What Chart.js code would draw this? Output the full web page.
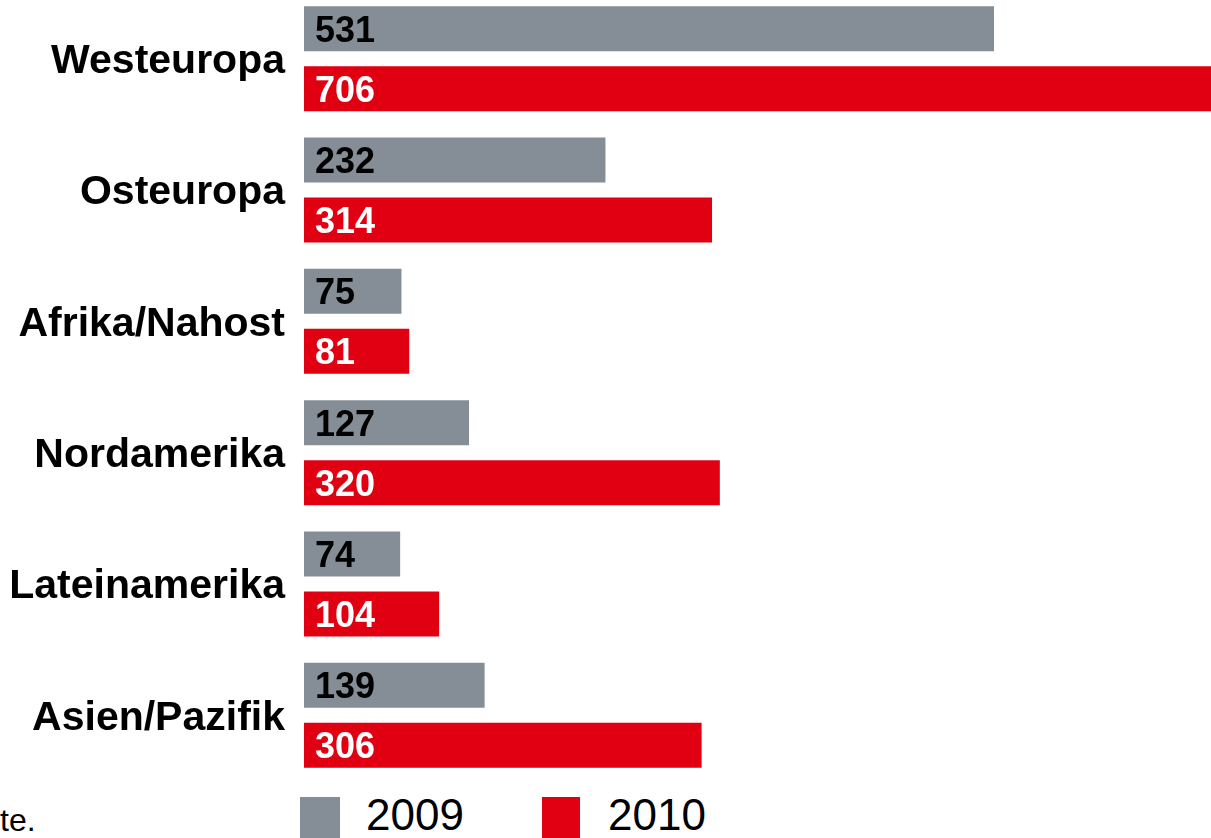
<!DOCTYPE html>
<html>
<head>
<meta charset="utf-8">
<script src="https://cdn.jsdelivr.net/npm/chart.js@4/dist/chart.umd.min.js"></script>
<style>
  html, body {
    margin: 0;
    padding: 0;
    background: #fff;
    overflow: hidden;
  }
  body {
    width: 1211px;
    height: 838px;
    position: relative;
    font-family: "Liberation Sans", Arial, sans-serif;
  }
  #chartBox {
    position: absolute;
    left: 0;
    top: -7px;
    width: 1211px;
    height: 788px;
  }
  .legend-box {
    position: absolute;
    top: 797px;
    width: 40px;
    height: 41px;
  }
  .legend-text {
    position: absolute;
    top: 790px;
    font-size: 44px;
    line-height: 50px;
    color: #000;
  }
  #note {
    position: absolute;
    left: 0;
    top: 800px;
    font-size: 32px;
    line-height: 40px;
    color: #000;
  }
</style>
</head>
<body>
<div id="chartBox"><canvas id="regionChart"></canvas></div>

<div id="note">te.</div>
<div class="legend-box" id="box2009" style="left:300px;"></div>
<div class="legend-text" id="txt2009" style="left:366px;"></div>
<div class="legend-box" id="box2010" style="left:542px;width:38px;"></div>
<div class="legend-text" id="txt2010" style="left:608px;"></div>

<script>
"use strict";

/**************************************************************
 * Data
 **************************************************************/
const regions = [
  "Westeuropa",
  "Osteuropa",
  "Afrika/Nahost",
  "Nordamerika",
  "Lateinamerika",
  "Asien/Pazifik",
];

const years = ["2009", "2010"];

const values2009 = [531, 232, 75, 127, 74, 139];

const values2010 = [706, 314, 81, 320, 104, 306];

const GREY = "#858e96";
const RED = "#e10012";
const FONT = "'Liberation Sans', Arial, sans-serif";

/**************************************************************
 * Legend (html)
 **************************************************************/
document.getElementById("box2009").style.background = GREY;
document.getElementById("box2010").style.background = RED;
document.getElementById("txt2009").textContent = years[0];
document.getElementById("txt2010").textContent = years[1];

/**************************************************************
 * Value labels inside the bars
 **************************************************************/
const barValueLabels = {
  id: "barValueLabels",
  afterDatasetsDraw(chart) {
    const ctx = chart.ctx;
    ctx.save();
    ctx.font = "bold 36px " + FONT;
    ctx.textAlign = "left";
    ctx.textBaseline = "alphabetic";

    chart.data.datasets.forEach((ds, i) => {
      const meta = chart.getDatasetMeta(i);
      ctx.fillStyle = i === 0 ? "#000" : "#fff";
      meta.data.forEach((bar, j) => {
        ctx.fillText(String(ds.data[j]), bar.base + 11, bar.y + 13);
      });
    });

    ctx.restore();
  },
};

/**************************************************************
 * Chart
 **************************************************************/
const ctx = document.getElementById("regionChart").getContext("2d");

new Chart(ctx, {
  type: "bar",
  data: {
    labels: regions,
    datasets: [
      {
        label: years[0],
        data: values2009,
        backgroundColor: GREY,
        borderWidth: 0,
      },
      {
        label: years[1],
        data: values2010,
        backgroundColor: RED,
        borderWidth: 0,
      },
    ],
  },
  options: {
    indexAxis: "y",
    responsive: true,
    maintainAspectRatio: false,
    animation: false,
    categoryPercentage: 0.913,
    barPercentage: 0.75,
    layout: {
      padding: 0,
    },
    scales: {
      x: {
        display: false,
        min: 0,
        max: 698,
      },
      y: {
        afterFit(scale) {
          // fixed axis width, no extra room for the end labels
          scale.width = 304;
          scale.paddingTop = 0;
          scale.paddingBottom = 0;
        },
        grid: { display: false, drawTicks: false },
        border: { display: false },
        ticks: {
          color: "#000",
          padding: 19,
          labelOffset: 3,
          font: { family: FONT, size: 41, weight: "bold" },
        },
      },
    },
    plugins: {
      legend: { display: false },
      tooltip: { enabled: false },
    },
  },
  plugins: [barValueLabels],
});
</script>
</body>
</html>
